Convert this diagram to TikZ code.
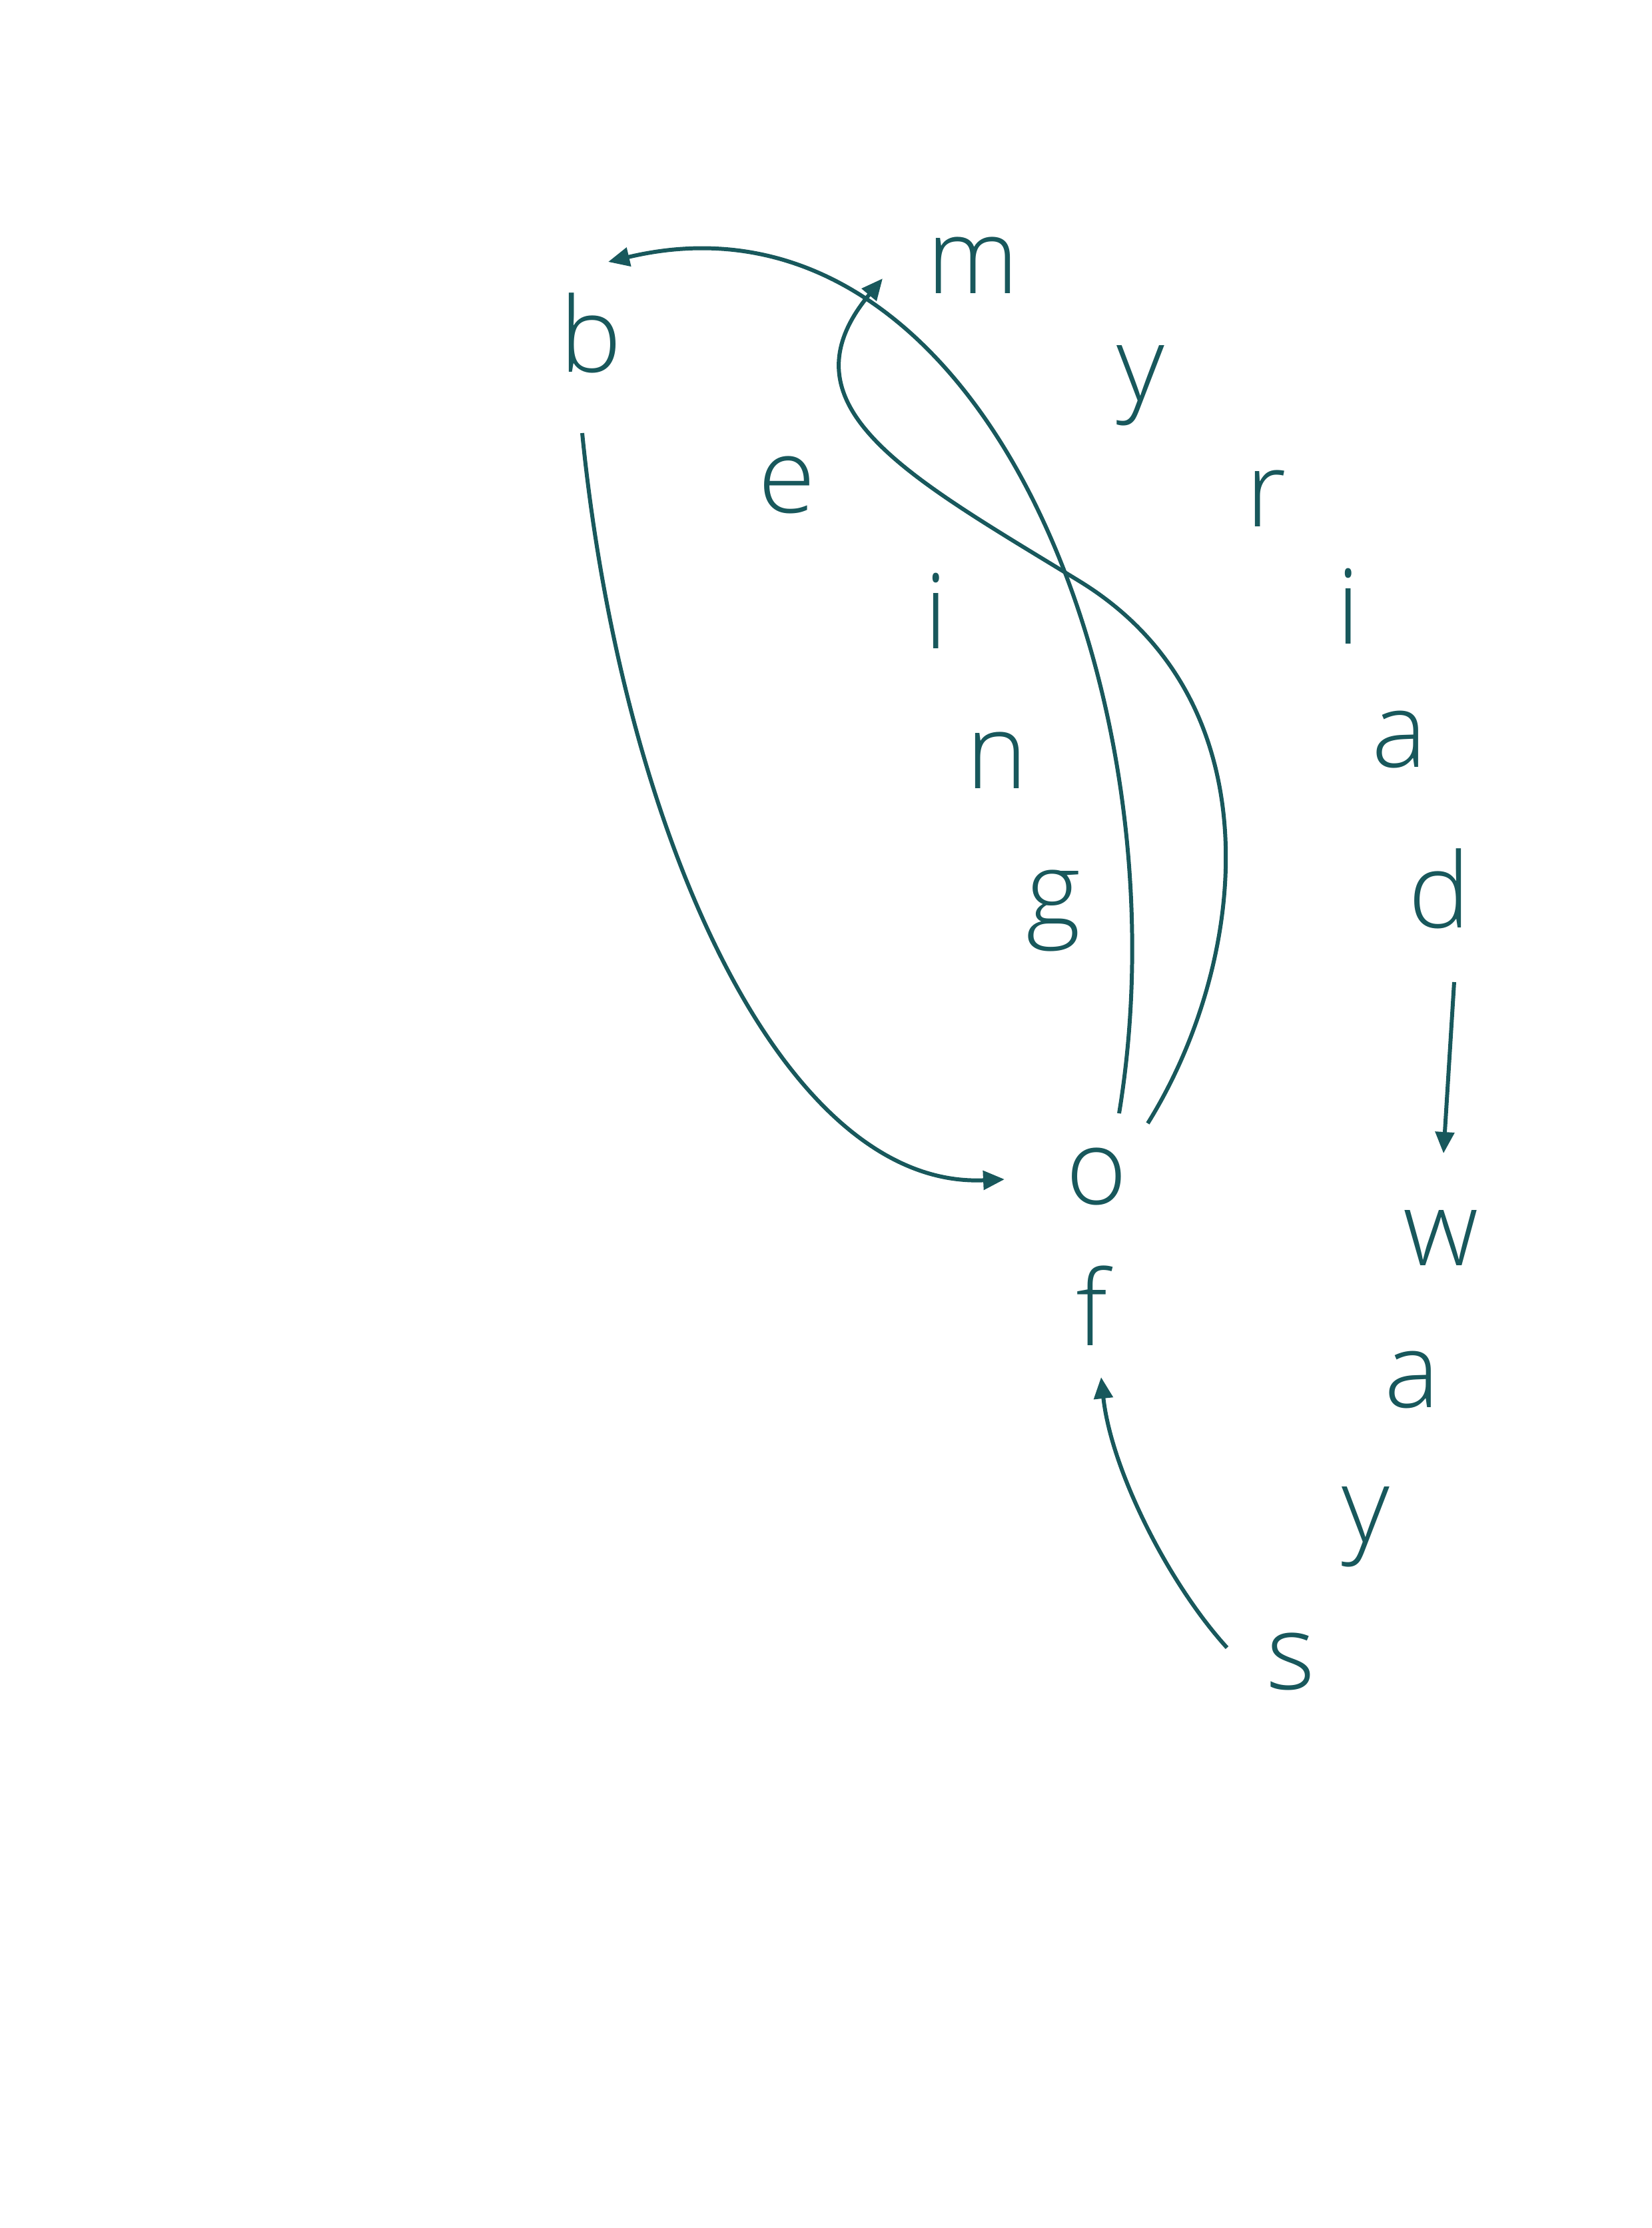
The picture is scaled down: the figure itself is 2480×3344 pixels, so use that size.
\documentclass[tikz,border=0pt]{standalone}
\usepackage{fontspec}
\setmainfont{Open Sans Light}
\usetikzlibrary{arrows.meta}
\definecolor{ink}{RGB}{24,88,92}
\begin{document}
\begin{tikzpicture}[x=0.1mm,y=-0.1mm,
  letter/.style={anchor=base, text=ink, font=\fontsize{44.5}{50}\selectfont, inner sep=0pt},
  link/.style={draw=ink, line width=1.7pt, -{Triangle[length=3.2mm,width=2.8mm]}}]
\useasboundingbox (0,0) rectangle (2480,3344);
\fill[white] (0,0) rectangle (2480,3344);
\begin{scope}[shift={(-7,-5)}]
\node[letter] (b) at (894,563) {b};
\node[letter] (m) at (1468,445) {m};
\node[letter] (y1) at (1719,606) {y};
\node[letter] (e) at (1188,774) {e};
\node[letter] (r) at (1908,795) {r};
\node[letter] (i1) at (1412,978) {i};
\node[letter] (i2) at (2031,971) {i};
\node[letter] (n) at (1504,1188) {n};
\node[letter] (a1) at (2108,1156) {a};
\node[letter] (g) at (1588,1395) {g};
\node[letter] (d) at (2168,1397) {d};
\node[letter] (o) at (1653,1812) {o};
\node[letter] (w) at (2170,1904) {w};
\node[letter] (f) at (1646,2024) {f};
\node[letter] (a2) at (2127,2117) {a};
\node[letter] (y2) at (2057,2319) {y};
\node[letter] (s) at (1945,2540) {s};
% b -> o
\draw[link] ([shift={(-13,92)}]b.base) .. controls (940,1250) and (1180,1790) .. ([shift={(-138,-37)}]o.base);
% o -> b
\draw[link] ([shift={(34,-136)}]o.base) .. controls (1790,1050) and (1480,265) .. ([shift={(26,-165)}]b.base);
% o -> m
\draw[link] ([shift={(77,-121)}]o.base) .. controls (1880,1450) and (1925,1059) .. (1627,877)
  .. controls (1372,721) and (1172,615) .. ([shift={(-136,-22)}]m.base);
% d -> w
\draw[link] ([shift={(22,82)}]d.base) -- ([shift={(4,-168)}]w.base);
% s -> f
\draw[link] ([shift={(-96,-62)}]s.base) .. controls (1760,2380) and (1675,2210) .. ([shift={(14,48)}]f.base);
\end{scope}
\end{tikzpicture}
\end{document}
